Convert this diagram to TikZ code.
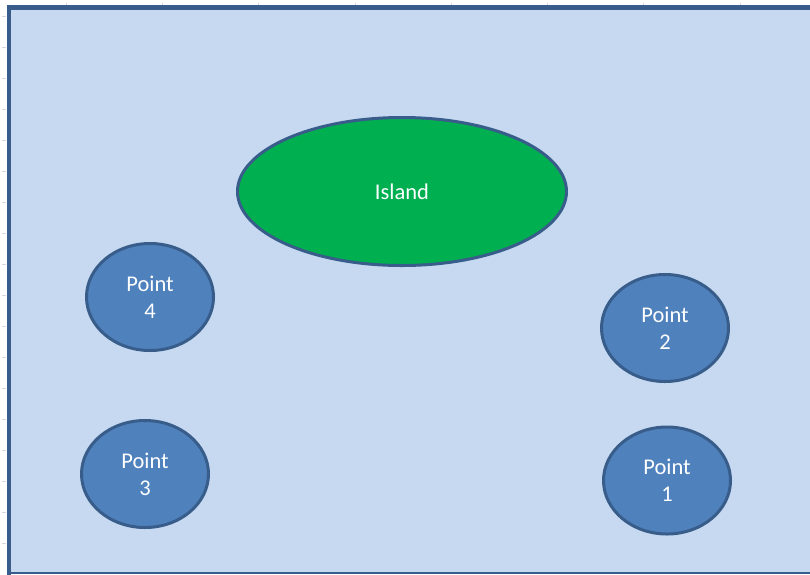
\documentclass[tikz,border=0pt]{standalone}
\usepackage{fontspec}
\setmainfont{Carlito}
\usetikzlibrary{shapes.geometric}
\definecolor{bgblue}{HTML}{C6D9F1}
\definecolor{edgeblue}{HTML}{385D8A}
\definecolor{ptblue}{HTML}{4F81BD}
\definecolor{islgreen}{HTML}{00B050}
\definecolor{tickgray}{HTML}{D4D8E2}
\tikzset{
  pointnode/.style={ellipse, draw=edgeblue, fill=ptblue, line width=3pt,
    minimum width=127pt, minimum height=107pt, inner sep=0pt,
    text=white, align=center, font=\fontsize{22.5}{27}\selectfont},
  islandnode/.style={ellipse, draw=edgeblue, fill=islgreen, line width=3pt,
    minimum width=329pt, minimum height=148pt, inner sep=0pt,
    text=white, font=\fontsize{22.5}{27}\selectfont},
  tick/.style={draw=tickgray, line width=0.8pt}
}
\begin{document}
\begin{tikzpicture}[x=1pt,y=-1pt]
\useasboundingbox (0,0) rectangle (810,574);
\fill[white] (0,0) rectangle (810,574);
% faint grid ticks
\foreach \k in {0,...,17} {
  \draw[tick] (2,{16+31*\k}) -- (6,{16+31*\k});
}
\foreach \k in {0,...,7} {
  \draw[tick] ({66+96.3*\k},2.5) -- ({66+96.3*\k},5.5);
}
% chart area
\fill[bgblue] (9,7.5) rectangle (812,573);
\draw[edgeblue, line width=4.5pt] (9,580) -- (9,7.5) -- (815,7.5);
\draw[edgeblue, line width=1.5pt] (9,573) -- (815,573);
% shapes
\node[islandnode] (island) at (402,191.5) {Island};
\node[pointnode] (p4) at (150,297) {Point\\4};
\node[pointnode] (p2) at (665,328) {Point\\2};
\node[pointnode] (p3) at (145,474) {Point\\3};
\node[pointnode] (p1) at (667,480.5) {Point\\1};
\end{tikzpicture}
\end{document}
